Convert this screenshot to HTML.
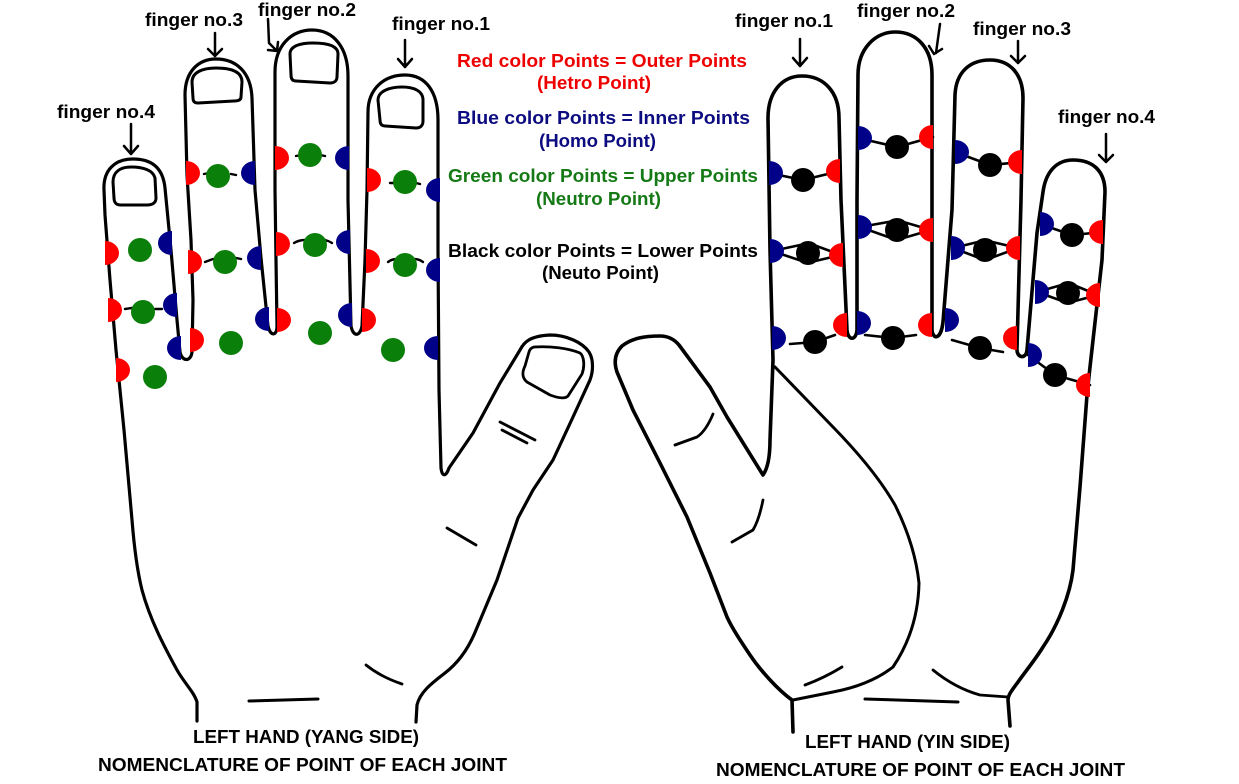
<!DOCTYPE html>
<html>
<head>
<meta charset="utf-8">
<style>
html,body{margin:0;padding:0;background:#fff;}
svg{display:block;}
text{font-family:"Liberation Sans",Arial,sans-serif;font-weight:bold;font-size:18px;}
</style>
</head>
<body>
<svg width="1239" height="784" viewBox="0 0 1239 784" xmlns="http://www.w3.org/2000/svg">
<rect width="1239" height="784" fill="#fff"/>

<!-- ================= LEFT HAND (YANG) ================= -->
<g fill="none" stroke="#000" stroke-width="3.6" stroke-linejoin="round" stroke-linecap="round">
  <path d="M197,721 L197,702 C194,692 185,684 177,670 C165,648 150,620 142,590 C137,570 134,545 132,520 L124,430 L116,350 L110,280 L105,215 L104,190 C103,170 115,159 133,159 C152,159 163,168 165,188 L171,250 L177,320 L180,352 C182,362 191,362 192,352 L193,300 L191,240 L187,175 L185,95 C185,72 198,59 216,59 C236,59 251,72 252,98 L255,190 L261,258 L268,326 C270,336 277,337 277,326 L276,260 L275,190 L275,72 C275,45 292,30 312,30 C334,30 348,48 348,76 L348,200 L351,326 C353,337 360,337 362,326 L365,260 L367,190 L368,112 C368,89 384,75 405,75 C426,75 438,92 438,120 L438,250 L439,390 L441,468 C442,477 446,477 449,468 L473,433 L500,383 L520,350 C524,342 530,336 550,335 C566,335 582,342 589,352 C594,360 593,372 590,380 L573,417 L553,460 L533,490 L518,518 L497,580 L476,630 C468,650 458,663 445,673 C432,683 420,692 417,705 L416,722" stroke-width="3.2"/>
  <!-- nails -->
  <path d="M113,182 C113,172 120,167 131,167 C143,167 153,170 155,178 L156,198 C156,203 152,205 147,205 L120,205 C116,205 114,202 114,198 Z" stroke-width="3"/>
  <path d="M192,82 C192,72 203,68 216,68 C232,68 242,72 242,82 L241,97 C241,100 238,101 234,101 L198,103 C194,103 193,101 193,98 Z" stroke-width="3"/>
  <path d="M290,54 C290,46 300,43 313,43 C328,43 338,46 338,54 L337,77 C337,81 334,83 330,83 L296,81 C292,81 291,78 291,75 Z" stroke-width="3"/>
  <path d="M378,100 C378,91 390,87 402,87 C414,87 423,91 423,100 L423,121 C423,126 420,128 416,128 L385,126 C381,126 380,123 380,120 Z" stroke-width="3"/>
  <path d="M534,347 C550,346 568,348 580,353 C584,356 585,366 582,374 L568,396 C565,399 558,398 550,395 L527,382 C522,378 522,372 525,366 L529,352 C530,349 531,348 534,347 Z" stroke-width="2.8"/>
  <!-- creases -->
  <path d="M500,422 L535,440" stroke-width="2.8"/>
  <path d="M502,430 L527,443" stroke-width="2.8"/>
  <path d="M447,528 L476,545" stroke-width="2.8"/>
  <path d="M366,665 Q381,677 402,684" stroke-width="2.8"/>
  <path d="M249,701 L318,699" stroke-width="3"/>
  <!-- small dashes -->
  <g stroke-width="2.4">
    <path d="M204,174 L209,173"/><path d="M231,174 L236,175"/>
    <path d="M296,156 L301,155"/><path d="M320,155 L325,156"/>
    <path d="M390,183 L394,183"/><path d="M416,183 L420,184"/>
    <path d="M125,309 L132,308"/><path d="M155,309 L162,309"/>
    <path d="M205,262 L213,259"/><path d="M236,258 L241,259"/>
    <path d="M294,243 Q299,240 305,240"/><path d="M325,240 Q329,241 332,243"/>
    <path d="M388,262 Q392,259 397,259"/><path d="M414,259 Q419,259 423,262"/>
  </g>
</g>

<!-- left hand dots: red half (bulge right) -->
<g fill="#ff0000">
  <path d="M105,241 A14,12 0 0 1 105,265 Z"/>
  <path d="M108,298 A14,12 0 0 1 108,322 Z"/>
  <path d="M116,358 A14,12 0 0 1 116,382 Z"/>
  <path d="M186,161 A14,12 0 0 1 186,185 Z"/>
  <path d="M188,250 A14,12 0 0 1 188,274 Z"/>
  <path d="M190,328 A14,12 0 0 1 190,352 Z"/>
  <path d="M275,146 A14,12 0 0 1 275,170 Z"/>
  <path d="M276,232 A14,12 0 0 1 276,256 Z"/>
  <path d="M277,308 A14,12 0 0 1 277,332 Z"/>
  <path d="M367,168 A14,12 0 0 1 367,192 Z"/>
  <path d="M366,249 A14,12 0 0 1 366,273 Z"/>
  <path d="M362,308 A14,12 0 0 1 362,332 Z"/>
</g>
<!-- left hand dots: blue half (bulge left) -->
<g fill="#000088">
  <path d="M172,231 A14,12 0 0 0 172,255 Z"/>
  <path d="M177,293 A14,12 0 0 0 177,317 Z"/>
  <path d="M181,336 A14,12 0 0 0 181,360 Z"/>
  <path d="M255,161 A14,12 0 0 0 255,185 Z"/>
  <path d="M261,246 A14,12 0 0 0 261,270 Z"/>
  <path d="M269,307 A14,12 0 0 0 269,331 Z"/>
  <path d="M349,146 A14,12 0 0 0 349,170 Z"/>
  <path d="M350,230 A14,12 0 0 0 350,254 Z"/>
  <path d="M352,303 A14,12 0 0 0 352,327 Z"/>
  <path d="M440,178 A14,12 0 0 0 440,202 Z"/>
  <path d="M440,258 A14,12 0 0 0 440,282 Z"/>
  <path d="M438,336 A14,12 0 0 0 438,360 Z"/>
</g>
<!-- left hand dots: green -->
<g fill="#0a7f0a">
  <circle cx="140" cy="250" r="12"/>
  <circle cx="143" cy="312" r="12"/>
  <circle cx="155" cy="377" r="12"/>
  <circle cx="218" cy="176" r="12"/>
  <circle cx="225" cy="262" r="12"/>
  <circle cx="231" cy="343" r="12"/>
  <circle cx="310" cy="155" r="12"/>
  <circle cx="315" cy="245" r="12"/>
  <circle cx="320" cy="333" r="12"/>
  <circle cx="405" cy="182" r="12"/>
  <circle cx="405" cy="265" r="12"/>
  <circle cx="393" cy="350" r="12"/>
</g>

<!-- ================= RIGHT HAND (YIN) ================= -->
<g fill="none" stroke="#000" stroke-width="3.6" stroke-linejoin="round" stroke-linecap="round">
  <path d="M793,732 L792,700 C778,690 760,670 750,655 C740,640 732,628 727,617 L710,573 L687,517 L660,463 L633,410 L617,372 C613,360 616,352 622,346 C632,338 645,336 660,336 C668,336 674,339 679,345 L710,387 L727,417 L763,475 C768,468 770,455 770,440 L773,360 L770,250 L768,118 C768,92 782,76 802,76 C824,76 839,92 839,118 L841,200 L847,330 C848,341 856,341 857,330 L857,200 L858,75 C858,48 876,32 895,32 C917,32 932,48 932,75 L932,200 L932,330 C933,340 941,340 943,322 L952,210 L955,95 C956,72 970,60 990,60 C1010,60 1023,74 1023,98 L1021,200 L1017,348 C1016,358 1026,360 1027,350 L1037,233 L1043,192 C1046,170 1058,160 1073,160 C1092,160 1105,170 1105,192 L1102,260 L1090,367 L1087,395 L1080,487 L1073,570 C1070,595 1058,625 1043,647 C1035,660 1025,672 1018,682 C1012,690 1008,695 1008,700 L1010,726"/>
  <!-- thenar curve -->
  <path d="M775,367 L833,427 Q875,470 895,505 Q915,545 919,583 Q918,630 893,667 Q870,685 833,692 L793,700" stroke-width="3"/>
  <!-- creases -->
  <path d="M675,445 L697,437 Q706,431 713,414" stroke-width="2.8"/>
  <path d="M732,542 L753,530 Q759,520 763,500" stroke-width="2.8"/>
  <path d="M805,685 Q824,678 842,667" stroke-width="2.8"/>
  <path d="M865,699 L958,702" stroke-width="3"/>
  <path d="M933,670 Q955,688 980,695 L1008,697" stroke-width="2.8"/>
</g>

<!-- right hand connectors -->
<g fill="none" stroke="#000" stroke-width="2.6" stroke-linecap="round">
  <!-- row 1 -->
  <path d="M769,173 L803,180 L840,171"/>
  <path d="M858,138 L897,147 L933,137"/>
  <path d="M955,152 L990,165 L1022,162"/>
  <path d="M1040,224 L1072,235 L1103,232"/>
  <!-- row 2 (double) -->
  <path d="M772,251 L805,244 M772,251 L805,262 M811,244 L841,255 M811,262 L841,255"/>
  <path d="M860,227 L894,221 M860,227 L894,239 M900,221 L931,230 M900,239 L931,230"/>
  <path d="M953,248 L982,241 M953,248 L982,259 M988,241 L1018,248 M988,259 L1018,248"/>
  <path d="M1037,292 L1065,284 M1037,292 L1065,302 M1071,284 L1098,295 M1071,302 L1098,295"/>
  <!-- row 3 -->
  <path d="M790,344 L815,342 L835,335"/>
  <path d="M865,335 L893,338 L916,335"/>
  <path d="M952,340 L980,348 L1003,352"/>
  <path d="M1028,355 L1055,375 L1090,385"/>
</g>
<!-- right hand blue half (bulge right) -->
<g fill="#000088">
  <path d="M769,161 A14,12 0 0 1 769,185 Z"/>
  <path d="M770,239 A14,12 0 0 1 770,263 Z"/>
  <path d="M772,326 A14,12 0 0 1 772,350 Z"/>
  <path d="M858,126 A14,12 0 0 1 858,150 Z"/>
  <path d="M858,215 A14,12 0 0 1 858,239 Z"/>
  <path d="M857,311 A14,12 0 0 1 857,335 Z"/>
  <path d="M955,140 A14,12 0 0 1 955,164 Z"/>
  <path d="M951,236 A14,12 0 0 1 951,260 Z"/>
  <path d="M945,308 A14,12 0 0 1 945,332 Z"/>
  <path d="M1040,212 A14,12 0 0 1 1040,236 Z"/>
  <path d="M1035,280 A14,12 0 0 1 1035,304 Z"/>
  <path d="M1028,343 A14,12 0 0 1 1028,367 Z"/>
</g>
<!-- right hand red half (bulge left) -->
<g fill="#ff0000">
  <path d="M840,159 A14,12 0 0 0 840,183 Z"/>
  <path d="M843,243 A14,12 0 0 0 843,267 Z"/>
  <path d="M847,313 A14,12 0 0 0 847,337 Z"/>
  <path d="M933,125 A14,12 0 0 0 933,149 Z"/>
  <path d="M933,218 A14,12 0 0 0 933,242 Z"/>
  <path d="M932,313 A14,12 0 0 0 932,337 Z"/>
  <path d="M1022,150 A14,12 0 0 0 1022,174 Z"/>
  <path d="M1020,236 A14,12 0 0 0 1020,260 Z"/>
  <path d="M1017,326 A14,12 0 0 0 1017,350 Z"/>
  <path d="M1103,220 A14,12 0 0 0 1103,244 Z"/>
  <path d="M1100,283 A14,12 0 0 0 1100,307 Z"/>
  <path d="M1090,373 A14,12 0 0 0 1090,397 Z"/>
</g>
<!-- right hand black dots -->
<g fill="#000">
  <circle cx="803" cy="180" r="12"/>
  <circle cx="808" cy="253" r="12"/>
  <circle cx="815" cy="342" r="12"/>
  <circle cx="897" cy="147" r="12"/>
  <circle cx="897" cy="230" r="12"/>
  <circle cx="893" cy="338" r="12"/>
  <circle cx="990" cy="165" r="12"/>
  <circle cx="985" cy="250" r="12"/>
  <circle cx="980" cy="348" r="12"/>
  <circle cx="1072" cy="235" r="12"/>
  <circle cx="1068" cy="293" r="12"/>
  <circle cx="1055" cy="375" r="12"/>
</g>

<!-- arrows -->
<g fill="none" stroke="#000" stroke-width="2.5" stroke-linecap="round" stroke-linejoin="round">
  <path d="M131,124 L131,154 M124,146 L131,154 L138,146"/>
  <path d="M215,33 L215,56 M208,49 L215,56 L222,49"/>
  <path d="M268,19 L269,43 L277,51 M268,50 L277,51 L278,42"/>
  <path d="M405,40 L405,67 M398,59 L405,67 L412,59"/>
  <path d="M800,39 L800,66 M793,58 L800,66 L807,58"/>
  <path d="M940,24 L936,53 M929,46 L934,54 L942,49"/>
  <path d="M1018,41 L1018,63 M1011,56 L1018,63 L1025,56"/>
  <path d="M1106,134 L1106,162 M1099,155 L1106,162 L1113,155"/>
</g>

<!-- labels -->
<g fill="#000">
  <text x="57" y="118" textLength="98" lengthAdjust="spacingAndGlyphs">finger no.4</text>
  <text x="145" y="26" textLength="98" lengthAdjust="spacingAndGlyphs">finger no.3</text>
  <text x="258" y="16" textLength="98" lengthAdjust="spacingAndGlyphs">finger no.2</text>
  <text x="392" y="30" textLength="98" lengthAdjust="spacingAndGlyphs">finger no.1</text>
  <text x="735" y="27" textLength="98" lengthAdjust="spacingAndGlyphs">finger no.1</text>
  <text x="857" y="17" textLength="98" lengthAdjust="spacingAndGlyphs">finger no.2</text>
  <text x="973" y="35" textLength="98" lengthAdjust="spacingAndGlyphs">finger no.3</text>
  <text x="1058" y="123" textLength="97" lengthAdjust="spacingAndGlyphs">finger no.4</text>
</g>

<!-- legend -->
<text x="457" y="67" fill="#ee0000" textLength="290" lengthAdjust="spacingAndGlyphs">Red color Points = Outer Points</text>
<text x="537" y="89" fill="#ee0000" textLength="114" lengthAdjust="spacingAndGlyphs">(Hetro Point)</text>
<text x="457" y="124" fill="#0c0c80" textLength="293" lengthAdjust="spacingAndGlyphs">Blue color Points = Inner  Points</text>
<text x="539" y="147" fill="#0c0c80" textLength="117" lengthAdjust="spacingAndGlyphs">(Homo Point)</text>
<text x="448" y="182" fill="#157a15" textLength="310" lengthAdjust="spacingAndGlyphs">Green color Points = Upper Points</text>
<text x="536" y="205" fill="#157a15" textLength="125" lengthAdjust="spacingAndGlyphs">(Neutro Point)</text>
<text x="448" y="257" fill="#000" textLength="310" lengthAdjust="spacingAndGlyphs">Black color Points = Lower Points</text>
<text x="542" y="279" fill="#000" textLength="117" lengthAdjust="spacingAndGlyphs">(Neuto Point)</text>

<!-- captions -->
<text x="193" y="743" fill="#000" textLength="226" lengthAdjust="spacingAndGlyphs">LEFT HAND (YANG SIDE)</text>
<text x="98" y="771" fill="#000" textLength="409" lengthAdjust="spacingAndGlyphs">NOMENCLATURE OF POINT OF EACH JOINT</text>
<text x="805" y="748" fill="#000" textLength="205" lengthAdjust="spacingAndGlyphs">LEFT HAND (YIN SIDE)</text>
<text x="716" y="776" fill="#000" textLength="409" lengthAdjust="spacingAndGlyphs">NOMENCLATURE OF POINT OF EACH JOINT</text>
</svg>
</body>
</html>
